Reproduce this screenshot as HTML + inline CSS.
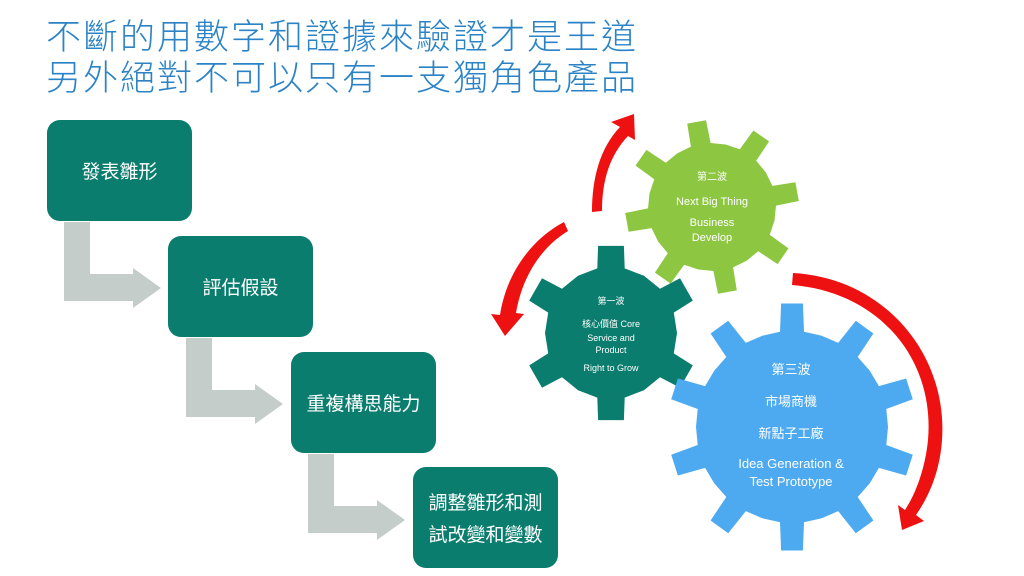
<!DOCTYPE html>
<html><head><meta charset="utf-8"><style>
body{margin:0;width:1024px;height:576px;background:#fff;overflow:hidden;position:relative;font-family:"Liberation Sans","Noto Sans CJK TC",sans-serif}
.t{position:absolute;left:46px;top:14px;font-size:35px;line-height:41px;color:#2b83c6;font-family:"Noto Sans CJK TC",sans-serif;font-weight:300;letter-spacing:2px;white-space:nowrap}
.b{position:absolute;width:145px;height:101px;background:#0b7d6e;border-radius:13px;color:#fff;font-family:"Noto Sans CJK TC",sans-serif;font-size:19px;display:flex;align-items:center;justify-content:center;text-align:center;line-height:32px}
svg{position:absolute;left:0;top:0}
</style></head><body>
<div class="t">不斷的用數字和證據來驗證才是王道<br>另外絕對不可以只有一支獨角色產品</div>
<svg width="1024" height="576">
<g fill="#c5cdca">
<path d="M64,222 H90 V274 H133 V268 L161,288 L133,308 V301 H64 Z"/>
<path d="M186,338 H212 V390 H255 V384 L283,404 L255,424 V417 H186 Z"/>
<path d="M308,454 H334 V506 H377 V500 L405,520 L377,540 V533 H308 Z"/>
</g>
<path id="g2" fill="#8dc641"/>
<path id="g1" fill="#0b7d6e"/>
<path id="g3" fill="#4daaf0"/>
<g fill="#ee1111">
<path d="M592,212 L602,211 C602,180 610,155 628,136 L635,140 L634,114 L611,122 L620,127 C600,148 592,178 592,212 Z"/>
<path d="M564,222 L568,231 C540,248 522,278 516,313 L524,314 L505,336 L491,314 L500,315 C506,275 530,240 564,222 Z"/>
<path d="M793,273 L792,285 C880,292 935,360 928,440 C925,470 915,495 905,510 L898,505 L902,530 L924,521 L916,515 C930,495 940,470 942,440 C948,355 885,278 793,273 Z"/>
</g>
<g fill="#fff" text-anchor="middle" font-family="Liberation Sans,Noto Sans CJK TC,sans-serif">
<text x="712" y="180" font-size="10">第二波</text>
<text x="712" y="205" font-size="11">Next Big Thing</text>
<text x="712" y="226" font-size="11">Business</text>
<text x="712" y="241" font-size="11">Develop</text>
<text x="611" y="304" font-size="9">第一波</text>
<text x="611" y="327" font-size="9">核心價值 Core</text>
<text x="611" y="341" font-size="9">Service and</text>
<text x="611" y="353" font-size="9">Product</text>
<text x="611" y="371" font-size="9">Right to Grow</text>
<text x="791" y="374" font-size="13">第三波</text>
<text x="791" y="406" font-size="13">市場商機</text>
<text x="791" y="438" font-size="13">新點子工廠</text>
<text x="791" y="468" font-size="13">Idea Generation &amp;</text>
<text x="791" y="486" font-size="13">Test Prototype</text>
</g>
</svg>
<div class="b" style="left:47px;top:120px">發表雛形</div>
<div class="b" style="left:168px;top:236px">評估假設</div>
<div class="b" style="left:291px;top:352px">重複構思能力</div>
<div class="b" style="left:413px;top:467px">調整雛形和測<br>試改變和變數</div>
<script>
function gear(id,cx,cy,n,ro,ri,rot){
 var p=[],step=2*Math.PI/n;
 for(var i=0;i<n;i++){
  var a=rot+i*step;
  var pts=[[a-step*0.5,ri],[a-step*0.2,ri],[a-step*0.14,ro],[a+step*0.14,ro],[a+step*0.2,ri]];
  for(var j=0;j<pts.length;j++){var q=pts[j];p.push((cx+q[1]*Math.cos(q[0])).toFixed(1)+","+(cy+q[1]*Math.sin(q[0])).toFixed(1));}
 }
 document.getElementById(id).setAttribute("d","M"+p.join(" L")+"Z");
}
gear("g2",712,207,8,87,64,-1.75);
gear("g1",611,333,6,88,66,-Math.PI/2);
gear("g3",792,427,10,124,96,-Math.PI/2);
</script>
</body></html>
